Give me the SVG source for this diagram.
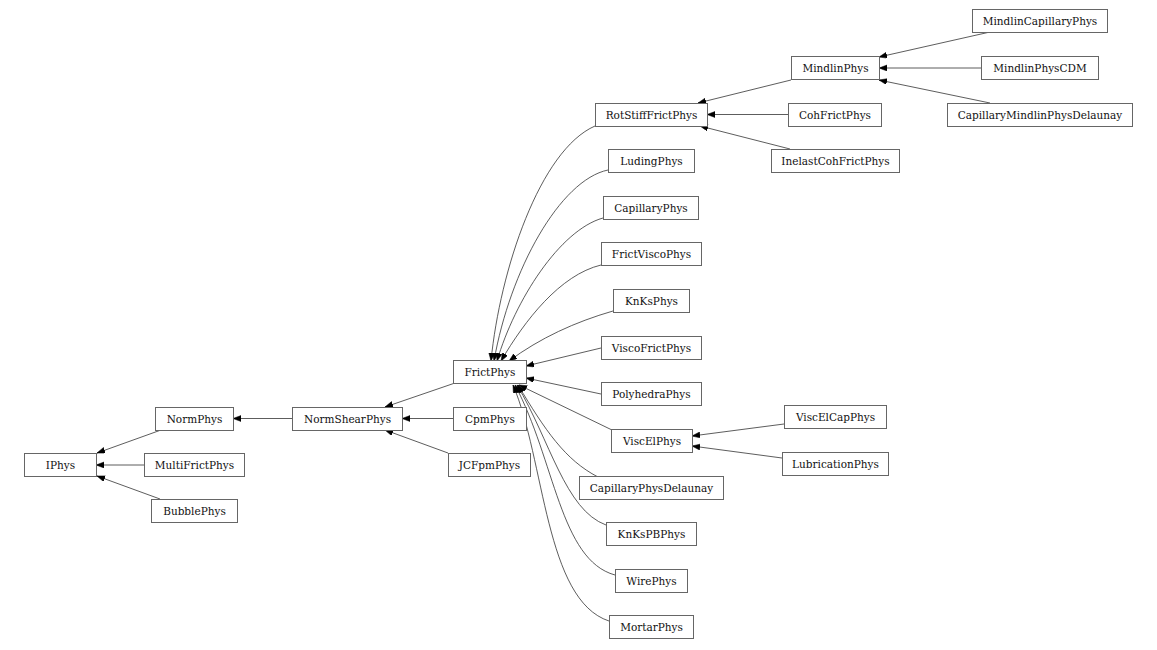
<svg xmlns="http://www.w3.org/2000/svg" width="1157" height="650" viewBox="0 0 1157 650">
<defs>
<style>
.n rect{fill:#fff;stroke:#666;stroke-width:1}
.n text{font-family:"DejaVu Serif","Liberation Serif",serif;font-size:10.5px;fill:#111;text-anchor:middle}
.e path{fill:none;stroke:#333;stroke-width:0.8;marker-end:url(#ah)}
</style>
<marker id="ah" markerUnits="userSpaceOnUse" markerWidth="9" markerHeight="7" refX="8" refY="3" orient="auto">
<path d="M0,0 L8,3 L0,6 z" fill="#000" stroke="#000" stroke-width="0.5"/>
</marker>
</defs>
<rect width="1157" height="650" fill="#fff"/>
<g id="connectors" class="e">
<path d="M161,430 L97,453"/>
<path d="M144,465 L96,465"/>
<path d="M160,499 L97,476"/>
<path d="M292,418.5 L233,418.5"/>
<path d="M455,383 L385,407"/>
<path d="M453,418.5 L402,418.5"/>
<path d="M448,453 L385,430"/>
<path d="M791,80 L698,103"/>
<path d="M788,114.5 L707,114.5"/>
<path d="M790,149 L700,126"/>
<path d="M990,32 L879,57"/>
<path d="M981,68 L879,68"/>
<path d="M990,103 L879,80"/>
<path d="M601,348 L526,366"/>
<path d="M601,394 L526,378"/>
<path d="M784,424 L692,436"/>
<path d="M782,458 L692,446"/>
<path d="M595,126 C540,150 500,270 491,361"/>
<path d="M608,170 C560,180 510,270 494,361"/>
<path d="M603,218 C560,230 515,300 497,361"/>
<path d="M601,265 C560,275 525,320 501,361"/>
<path d="M613,311 C575,322 540,338 509,361"/>
<path d="M612,430 L519,385"/>
<path d="M598,477 C565,460 545,430 518,385"/>
<path d="M606,525 C565,510 550,440 517,385"/>
<path d="M615,575 C560,560 555,460 515,385"/>
<path d="M609,621 C545,600 545,460 513,385"/>
</g>
<g id="IPhys" class="n"><rect x="24.5" y="453.5" width="72" height="23"/><text x="60.5" y="468.8">IPhys</text></g>
<g id="NormPhys" class="n"><rect x="155.5" y="407.5" width="78" height="23"/><text x="194.5" y="422.8">NormPhys</text></g>
<g id="MultiFrictPhys" class="n"><rect x="144.5" y="453.5" width="100" height="23"/><text x="194.5" y="468.8">MultiFrictPhys</text></g>
<g id="BubblePhys" class="n"><rect x="151.5" y="499.5" width="86" height="23"/><text x="194.5" y="514.8">BubblePhys</text></g>
<g id="NormShearPhys" class="n"><rect x="292.5" y="407.5" width="110" height="23"/><text x="347.5" y="422.8">NormShearPhys</text></g>
<g id="CpmPhys" class="n"><rect x="453.5" y="407.5" width="73" height="23"/><text x="490" y="422.8">CpmPhys</text></g>
<g id="JCFpmPhys" class="n"><rect x="448.5" y="453.5" width="82" height="23"/><text x="489.5" y="468.8">JCFpmPhys</text></g>
<g id="FrictPhys" class="n"><rect x="453.5" y="360.5" width="73" height="23"/><text x="490" y="375.8">FrictPhys</text></g>
<g id="RotStiffFrictPhys" class="n"><rect x="595.5" y="103.5" width="112" height="23"/><text x="651.5" y="118.8">RotStiffFrictPhys</text></g>
<g id="LudingPhys" class="n"><rect x="608.5" y="149.5" width="86" height="23"/><text x="651.5" y="164.8">LudingPhys</text></g>
<g id="CapillaryPhys" class="n"><rect x="603.5" y="196.5" width="95" height="23"/><text x="651" y="211.8">CapillaryPhys</text></g>
<g id="FrictViscoPhys" class="n"><rect x="601.5" y="242.5" width="100" height="23"/><text x="651.5" y="257.8">FrictViscoPhys</text></g>
<g id="KnKsPhys" class="n"><rect x="613.5" y="289.5" width="76" height="23"/><text x="651.5" y="304.8">KnKsPhys</text></g>
<g id="ViscoFrictPhys" class="n"><rect x="601.5" y="336.5" width="100" height="23"/><text x="651.5" y="351.8">ViscoFrictPhys</text></g>
<g id="PolyhedraPhys" class="n"><rect x="601.5" y="382.5" width="100" height="23"/><text x="651.5" y="397.8">PolyhedraPhys</text></g>
<g id="ViscElPhys" class="n"><rect x="611.5" y="429.5" width="81" height="23"/><text x="652" y="444.8">ViscElPhys</text></g>
<g id="CapillaryPhysDelaunay" class="n"><rect x="579.5" y="476.5" width="144" height="23"/><text x="651.5" y="491.8">CapillaryPhysDelaunay</text></g>
<g id="KnKsPBPhys" class="n"><rect x="606.5" y="522.5" width="90" height="23"/><text x="651.5" y="537.8">KnKsPBPhys</text></g>
<g id="WirePhys" class="n"><rect x="615.5" y="569.5" width="72" height="23"/><text x="651.5" y="584.8">WirePhys</text></g>
<g id="MortarPhys" class="n"><rect x="609.5" y="615.5" width="84" height="23"/><text x="651.5" y="630.8">MortarPhys</text></g>
<g id="MindlinPhys" class="n"><rect x="791.5" y="56.5" width="88" height="23"/><text x="835.5" y="71.8">MindlinPhys</text></g>
<g id="CohFrictPhys" class="n"><rect x="788.5" y="103.5" width="93" height="23"/><text x="835" y="118.8">CohFrictPhys</text></g>
<g id="InelastCohFrictPhys" class="n"><rect x="771.5" y="149.5" width="128" height="23"/><text x="835.5" y="164.8">InelastCohFrictPhys</text></g>
<g id="ViscElCapPhys" class="n"><rect x="784.5" y="405.5" width="102" height="23"/><text x="835.5" y="420.8">ViscElCapPhys</text></g>
<g id="LubricationPhys" class="n"><rect x="782.5" y="452.5" width="106" height="23"/><text x="835.5" y="467.8">LubricationPhys</text></g>
<g id="MindlinCapillaryPhys" class="n"><rect x="972.5" y="9.5" width="135" height="23"/><text x="1040" y="24.8">MindlinCapillaryPhys</text></g>
<g id="MindlinPhysCDM" class="n"><rect x="981.5" y="56.5" width="117" height="23"/><text x="1040" y="71.8">MindlinPhysCDM</text></g>
<g id="CapillaryMindlinPhysDelaunay" class="n"><rect x="947.5" y="103.5" width="185" height="23"/><text x="1040" y="118.8">CapillaryMindlinPhysDelaunay</text></g>
</svg>
